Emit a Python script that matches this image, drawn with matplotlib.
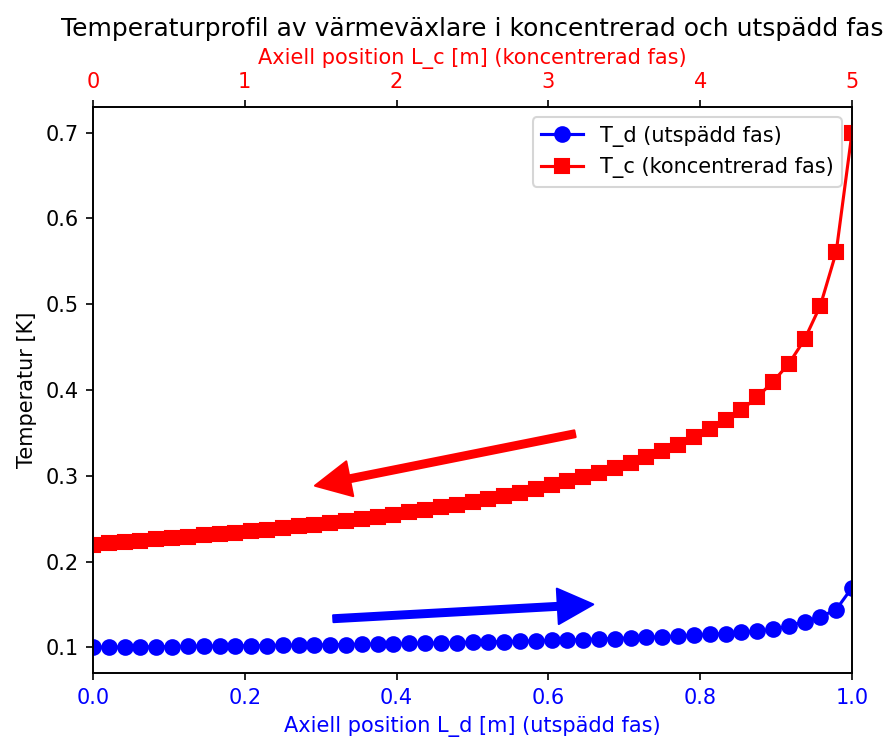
import numpy as np
import matplotlib.pyplot as plt

# Axiella positioner: 49 punkter i varje fas
L_d = np.linspace(0, 1.0, 49)   # utspädd fas [m]
L_c = np.linspace(0, 5.0, 49)   # koncentrerad fas [m]

T_d = [0.1000, 0.1000, 0.1002, 0.1004, 0.1006, 0.1008, 0.1010, 0.1012,
       0.1014, 0.1016, 0.1018, 0.1020, 0.1022, 0.1024, 0.1026, 0.1029,
       0.1032, 0.1035, 0.1038, 0.1041, 0.1044, 0.1047, 0.1050, 0.1054,
       0.1058, 0.1062, 0.1066, 0.1070, 0.1075, 0.1080, 0.1085, 0.1090,
       0.1096, 0.1102, 0.1108, 0.1115, 0.1122, 0.1130, 0.1139, 0.1149,
       0.1160, 0.1173, 0.1189, 0.1209, 0.1250, 0.1300, 0.1355, 0.1440,
       0.1695]

T_c = [0.2195, 0.2212, 0.2228, 0.2244, 0.2258, 0.2272, 0.2288, 0.2304,
       0.2320, 0.2337, 0.2354, 0.2371, 0.2390, 0.2410, 0.2430, 0.2452,
       0.2474, 0.2497, 0.2521, 0.2546, 0.2572, 0.2600, 0.2630, 0.2661,
       0.2694, 0.2729, 0.2765, 0.2804, 0.2845, 0.2890, 0.2935, 0.2982,
       0.3032, 0.3088, 0.3145, 0.3215, 0.3285, 0.3362, 0.3450, 0.3540,
       0.3645, 0.3767, 0.3915, 0.4097, 0.4305, 0.4590, 0.4985, 0.5608,
       0.7000]

fig = plt.figure(figsize=(892 / 150, 742 / 150), dpi=150)
ax1 = fig.add_axes([93 / 892, 69 / 742, 759 / 892, 566 / 742])

# Utspädd fas på nedre x-axeln
l1, = ax1.plot(L_d, T_d, 'bo-', ms=7, label='T_d (utspädd fas)')
ax1.set_xlim(0, 1.0)
ax1.set_xlabel('Axiell position L_d [m] (utspädd fas)', color='blue')
ax1.tick_params(axis='x', labelcolor='blue')
ax1.set_ylabel('Temperatur [K]')

# Koncentrerad fas på övre x-axeln
ax2 = ax1.twiny()
l2, = ax2.plot(L_c, T_c, 'rs-', ms=6.5, label='T_c (koncentrerad fas)')
ax2.set_xlim(0, 5)
ax2.set_xlabel('Axiell position L_c [m] (koncentrerad fas)', color='red')
ax2.tick_params(axis='x', labelcolor='red')

# Pilar för flödesriktningen
ax1.annotate('', xy=(0.2925, 0.2884), xytext=(0.635, 0.349),
             arrowprops=dict(facecolor='red', edgecolor='red', shrink=0.0,
                             width=3.3, headwidth=17, headlength=17))
ax1.annotate('', xy=(0.659, 0.150), xytext=(0.3166, 0.1333),
             arrowprops=dict(facecolor='blue', edgecolor='blue', shrink=0.0,
                             width=3.3, headwidth=17, headlength=17))

ax2.legend(handles=[l1, l2], loc='upper right')
ax1.set_title('Temperaturprofil av värmeväxlare i koncentrerad och utspädd fas')

fig.savefig('out.png', dpi=150)
